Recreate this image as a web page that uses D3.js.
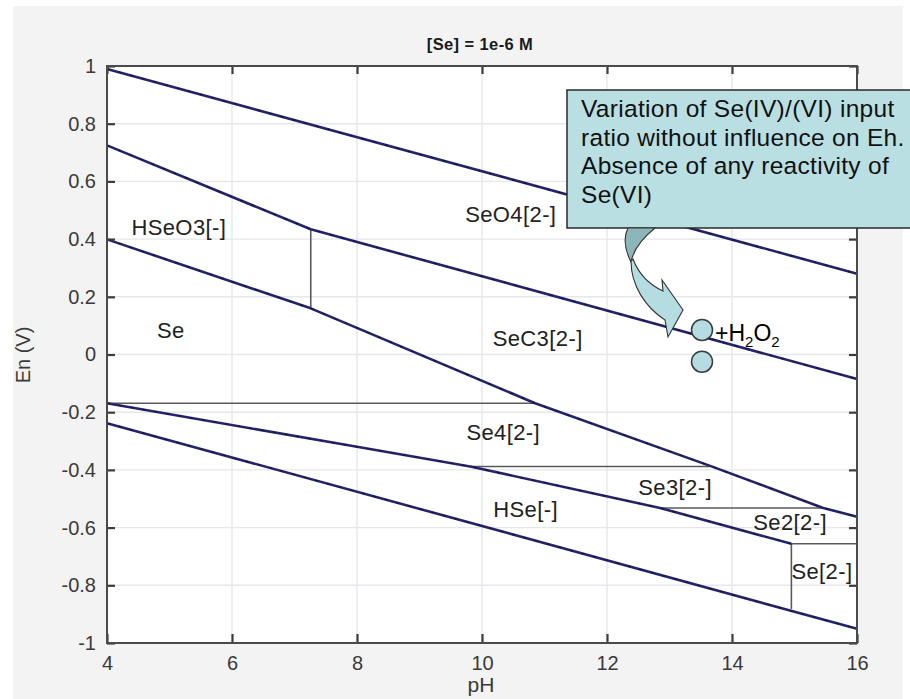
<!DOCTYPE html>
<html>
<head>
<meta charset="utf-8">
<script src="https://cdn.jsdelivr.net/npm/d3@7/dist/d3.min.js"></script>
<style>
  html, body { margin: 0; padding: 0; background: #ffffff; }
  svg { display: block; font-family: "Liberation Sans", Arial, Helvetica, sans-serif; }
</style>
</head>
<body>
<svg id="chart" width="910" height="699"></svg>
<script>
// Eh-pH predominance diagram for selenium, [Se] = 1e-6 M

// Axis ticks
const pHTicks = [4, 6, 8, 10, 12, 14, 16];
const ehTicks = [-1, -0.8, -0.6, -0.4, -0.2, 0, 0.2, 0.4, 0.6, 0.8, 1];
const ehTickLabels = ["-1", "-0.8", "-0.6", "-0.4", "-0.2", "0", "0.2", "0.4", "0.6", "0.8", "1"];

// Thick boundary curves, [pH, Eh (V)]
const waterOxidation = [[4, 0.99], [16, 0.28]];
const seleniteSelenate = [[4, 0.725], [7.26, 0.434], [16, -0.085]];
const seleniumSelenite = [[4, 0.399], [7.26, 0.160], [10.85, -0.169], [13.65, -0.386], [15.46, -0.532], [16, -0.562]];
const selenideSelenium = [[4, -0.169], [8, -0.320], [9.81, -0.388], [12.85, -0.532], [14.95, -0.656]];
const waterReduction = [[4, -0.238], [16, -0.951]];

// Thin domain separators, [pH, Eh (V)]
const separators = [
  [[7.26, 0.434], [7.26, 0.160]],
  [[4, -0.169], [10.85, -0.169]],
  [[9.81, -0.388], [13.65, -0.388]],
  [[12.85, -0.532], [15.46, -0.532]],
  [[14.95, -0.656], [16, -0.656]],
  [[14.95, -0.656], [14.95, -0.882]]
];

// Species names and their anchor points [pH, Eh]
const speciesNames = ["HSeO3[-]", "Se", "SeO4[2-]", "SeC3[2-]", "Se4[2-]", "Se3[2-]", "HSe[-]", "Se2[2-]", "Se[2-]"];
const speciesPH = [4.39, 4.80, 9.73, 10.17, 9.75, 12.50, 10.18, 14.34, 14.95];
const speciesEh = [0.414, 0.057, 0.459, 0.029, -0.296, -0.487, -0.562, -0.608, -0.779];

// Measured points
const measuredPH = [13.52, 13.52];
const measuredEh = [0.085, -0.025];

const noteLines = [
  "Variation of Se(IV)/(VI) input",
  "ratio without influence on Eh.",
  "Absence of any reactivity of",
  "Se(VI)"
];

const svg = d3.select("#chart");
const W = 910, H = 699;
const plot = { left: 107, right: 857, top: 66, bottom: 643 };

const x = d3.scaleLinear().domain([4, 16]).range([plot.left, plot.right]);
const y = d3.scaleLinear().domain([-1, 1]).range([plot.bottom, plot.top]);

// figure background
svg.append("rect").attr("width", W).attr("height", H).attr("fill", "#ffffff");
svg.append("rect").attr("x", 13).attr("y", 6).attr("width", 890).attr("height", H - 6).attr("fill", "#f3f3f3");
svg.append("rect")
  .attr("x", plot.left).attr("y", plot.top)
  .attr("width", plot.right - plot.left).attr("height", plot.bottom - plot.top)
  .attr("fill", "#ffffff");

// grid
const grid = svg.append("g").attr("stroke", "#e6e7ec").attr("stroke-width", 1.4);
grid.selectAll("line.gx").data(pHTicks.slice(1, -1)).join("line")
  .attr("x1", d => x(d)).attr("x2", d => x(d))
  .attr("y1", plot.top).attr("y2", plot.bottom);
grid.selectAll("line.gy").data(ehTicks.slice(1, -1)).join("line")
  .attr("x1", plot.left).attr("x2", plot.right)
  .attr("y1", d => y(d)).attr("y2", d => y(d));

// domain separators
const line = d3.line().x(d => x(d[0])).y(d => y(d[1]));
svg.append("g").selectAll("path").data(separators).join("path")
  .attr("d", line).attr("fill", "none")
  .attr("stroke", "#5a5a5a").attr("stroke-width", 1.6);

// boundary curves
const curves = [waterOxidation, seleniteSelenate, seleniumSelenite, selenideSelenium, waterReduction];
const cg = svg.append("g").attr("fill", "none").attr("stroke-linejoin", "round");
cg.selectAll("path.base").data(curves).join("path")
  .attr("d", line).attr("stroke", "#24246a").attr("stroke-width", 2.6);
cg.selectAll("path.tex").data(curves).join("path")
  .attr("d", line).attr("stroke", "#0d0d2e").attr("stroke-width", 1.4)
  .attr("stroke-dasharray", "3 9").attr("opacity", 0.6);

// axes
const axisStyle = g => {
  g.select(".domain").remove();
  g.selectAll(".tick line").attr("stroke", "#3c3c3c").attr("stroke-width", 2.2);
  g.selectAll(".tick text").attr("fill", "#3a3a3a").attr("font-size", 20)
    .attr("font-family", "'Liberation Sans', Arial, sans-serif");
};
svg.append("g").attr("transform", `translate(${plot.left},0)`)
  .call(d3.axisLeft(y).tickValues(ehTicks).tickSize(-8).tickPadding(11)
    .tickFormat((d, i) => ehTickLabels[i]))
  .call(axisStyle);
svg.append("g").attr("transform", `translate(0,${plot.bottom})`)
  .call(d3.axisBottom(x).tickValues(pHTicks).tickSize(-9).tickPadding(13).tickFormat(d3.format("d")))
  .call(axisStyle);
svg.append("g").attr("transform", `translate(0,${plot.top})`)
  .call(d3.axisTop(x).tickValues(pHTicks).tickSize(-8).tickFormat(""))
  .call(axisStyle);
svg.append("g").attr("transform", `translate(${plot.right},0)`)
  .call(d3.axisRight(y).tickValues(ehTicks).tickSize(-8).tickFormat(""))
  .call(axisStyle);

// frame
svg.append("rect")
  .attr("x", plot.left).attr("y", plot.top)
  .attr("width", plot.right - plot.left).attr("height", plot.bottom - plot.top)
  .attr("fill", "none").attr("stroke", "#4a4a4a").attr("stroke-width", 2);

// axis titles and heading
svg.append("text").attr("x", 481).attr("y", 692).attr("text-anchor", "middle")
  .attr("font-size", 21).attr("fill", "#3a3a3a").text("pH");
svg.append("text").attr("transform", "translate(30,355) rotate(-90)").attr("text-anchor", "middle")
  .attr("font-size", 20).attr("fill", "#3a3a3a").text("En (V)");
svg.append("text").attr("x", 480).attr("y", 50).attr("text-anchor", "middle")
  .attr("font-size", 16.5).attr("font-weight", "bold").attr("letter-spacing", 0.4)
  .attr("fill", "#1a1a1a").text("[Se] = 1e-6 M");

// species labels
svg.append("g").selectAll("text").data(speciesNames).join("text")
  .attr("x", (d, i) => x(speciesPH[i]))
  .attr("y", (d, i) => y(speciesEh[i]))
  .attr("font-size", 22).attr("letter-spacing", 0.4).attr("fill", "#222222")
  .text(d => d);

// annotation box
const note = svg.append("g");
note.append("rect").attr("x", 567).attr("y", 90).attr("width", 360).attr("height", 138)
  .attr("fill", "#b9dfe3").attr("stroke", "#2a2a2a").attr("stroke-width", 1.5);
note.selectAll("text").data(noteLines).join("text")
  .attr("x", 581).attr("y", (d, i) => 117 + i * 28.7)
  .attr("font-size", 24.5).attr("letter-spacing", 0.3).attr("fill", "#111111")
  .text(d => d);

// curved arrow from the note to the measurements
note.append("path")
  .attr("d", "M628,228 L655,228 C645,236 634,247 631,262 C625,250 623,238 628,228 Z")
  .attr("fill", "#8db6ba").attr("stroke", "#333333").attr("stroke-width", 1.1);
note.append("path")
  .attr("d", "M631,261 C631,285 645,307 665,320 L668,337 L683,310 L662,280 L663,291 C650,285 639,275 633,259 Z")
  .attr("fill", "#b5dde1").attr("stroke", "#333333").attr("stroke-width", 1.1);

// measured points
svg.append("g").selectAll("circle").data(measuredPH).join("circle")
  .attr("cx", d => x(d)).attr("cy", (d, i) => y(measuredEh[i])).attr("r", 10.5)
  .attr("fill", "#b5dde1").attr("stroke", "#3a3a3a").attr("stroke-width", 1.5);

// reagent label
const reagent = svg.append("text").attr("x", 715).attr("y", 341)
  .attr("font-size", 23).attr("fill", "#000000");
reagent.append("tspan").text("+H");
reagent.append("tspan").attr("font-size", 15).attr("dy", 6).text("2");
reagent.append("tspan").attr("dy", -6).text("O");
reagent.append("tspan").attr("font-size", 15).attr("dy", 6).text("2");
</script>
</body>
</html>
